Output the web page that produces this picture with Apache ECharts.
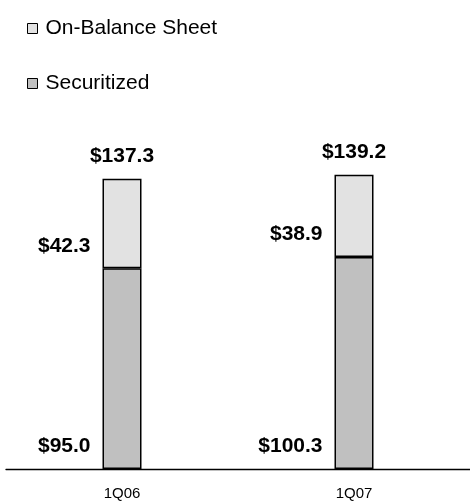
<!DOCTYPE html>
<html>
<head>
<meta charset="utf-8">
<script src="https://cdn.jsdelivr.net/npm/echarts@6/dist/echarts.min.js"></script>
<style>html,body{margin:0;padding:0;background:#fff}#c{width:470px;height:502px}</style>
</head>
<body>
<div id="c"></div>
<script>
const categories = ['1Q06', '1Q07'];
const securitized = [95.0, 100.3];
const onBalance = [42.3, 38.9];
const totals = [137.3, 139.2];

const FONT = '"Liberation Sans", Arial, sans-serif';
const fmt = v => '$' + Number(v).toFixed(1);
const segLabel = {
  show: true,
  position: [-12, '100%'],
  align: 'right',
  verticalAlign: 'bottom',
  offset: [0, -12],
  fontFamily: FONT,
  fontSize: 21,
  fontWeight: 'bold',
  color: '#000',
  formatter: p => fmt(p.value)
};

const chart = echarts.init(document.getElementById('c'), null, {renderer: 'canvas'});
chart.setOption({
  animation: false,
  backgroundColor: '#fff',
  legend: {
    data: [
      {name: 'On-Balance Sheet', itemStyle: {color: '#e2e2e2', borderColor: '#000', borderWidth: 1}},
      {name: 'Securitized', itemStyle: {color: '#c0c0c0', borderColor: '#000', borderWidth: 1}}
    ],
    orient: 'vertical',
    left: 22,
    top: 13,
    itemWidth: 10,
    itemHeight: 10,
    itemGap: 34,
    icon: 'rect',
    textStyle: {fontFamily: FONT, fontSize: 21, color: '#000', padding: [0, 0, 0, 3]}
  },
  grid: {left: 6, right: -7, top: 152, bottom: 33, containLabel: false},
  xAxis: {
    type: 'category',
    data: categories,
    axisLine: {lineStyle: {color: '#000', width: 1.3}},
    axisTick: {show: false},
    axisLabel: {fontFamily: FONT, fontSize: 15, color: '#000', margin: 17}
  },
  yAxis: {
    type: 'value',
    min: 0,
    max: 150,
    show: false,
    splitLine: {show: false}
  },
  series: [
    {
      name: 'Securitized',
      type: 'bar',
      stack: 'total',
      barWidth: 39,
      data: securitized,
      itemStyle: {color: '#c0c0c0', borderColor: '#000', borderWidth: 1.5},
      label: segLabel
    },
    {
      name: 'On-Balance Sheet',
      type: 'bar',
      stack: 'total',
      barWidth: 39,
      data: onBalance,
      itemStyle: {color: '#e2e2e2', borderColor: '#000', borderWidth: 1.5},
      label: segLabel
    },
    {
      name: 'Total',
      type: 'scatter',
      data: totals,
      symbolSize: 0,
      itemStyle: {color: '#000', opacity: 1},
      label: {
        show: true,
        position: 'top',
        distance: 12,
        opacity: 1,
        fontFamily: FONT,
        fontSize: 21,
        fontWeight: 'bold',
        color: '#000',
        formatter: p => fmt(p.value)
      }
    }
  ]
});
</script>
</body>
</html>
